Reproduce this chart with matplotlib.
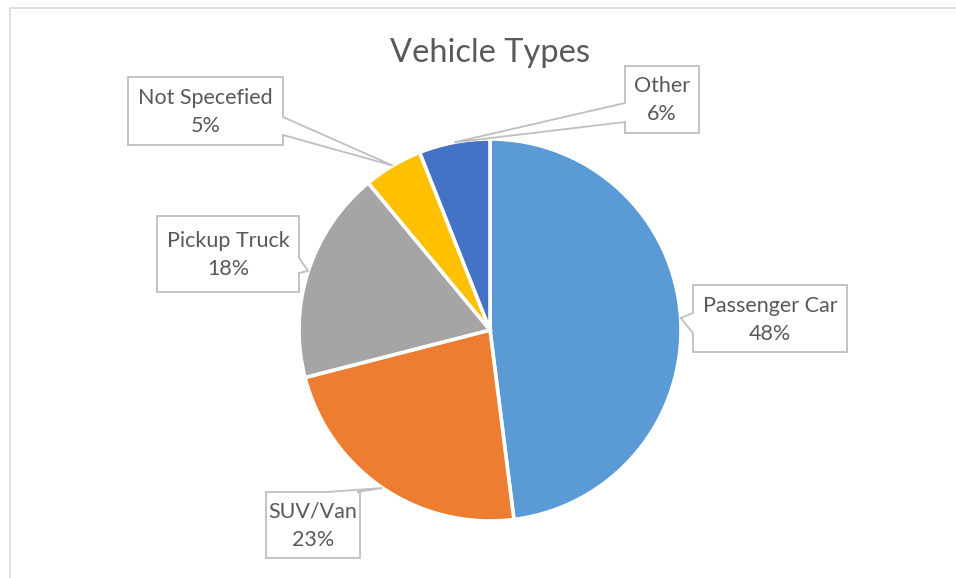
import matplotlib
matplotlib.use("Agg")
import matplotlib.pyplot as plt
import numpy as np
from matplotlib.patches import Polygon

categories = ["Passenger Car", "SUV/Van", "Pickup Truck", "Not Specefied", "Other"]
values = [48, 23, 18, 5, 6]
colors = ["#5B9BD5", "#ED7D31", "#A5A5A5", "#FFC000", "#4472C4"]
title = "Vehicle Types"

W, H = 956, 578
fig = plt.figure(figsize=(W / 100, H / 100), dpi=100)
FONT = "Lato"
TXT = "#595959"

# pie axes: center (490,330) px, radius 191 px
cx, cy, r = 490, 330, 191
ax = fig.add_axes([(cx - r) / W, (H - cy - r) / H, 2 * r / W, 2 * r / H])
wedges, _ = ax.pie(values, colors=colors, startangle=90, counterclock=False,
                   radius=1.0, wedgeprops=dict(edgecolor="white", linewidth=2.6))
ax.set_xlim(-1, 1)
ax.set_ylim(-1, 1)
ax.set_aspect("auto")
ax.axis("off")

# overlay in pixel coords (top-left origin)
ov = fig.add_axes([0, 0, 1, 1], zorder=5)
ov.set_xlim(0, W)
ov.set_ylim(H, 0)
ov.axis("off")
ov.patch.set_alpha(0)

# chart border (cropped chart area)
ov.plot([10.5, 10.5, W], [H, 7.5, 7.5], color="#D9D9D9", lw=1.2, solid_capstyle="butt")

ov.text(490, 53, title, ha="center", va="center", fontsize=23.5, color=TXT, family=FONT)

# callout boxes: (x0, y0, x1, y1), side of pointer, base positions along that side
boxes = {
    "Passenger Car": ((693, 285, 847, 352), "left", (313, 333)),
    "SUV/Van": ((266, 492, 360, 558), "top", (327, 357)),
    "Pickup Truck": ((157, 216, 299, 292), "right", (258, 273)),
    "Not Specefied": ((128, 77, 283, 145), "right", (117, 135)),
    "Other": ((625, 66, 699, 133), "left", (103, 122)),
}

total = sum(values)
theta = 90.0
for cat, v in zip(categories, values):
    span = 360.0 * v / total
    mid = np.deg2rad(theta - span / 2)
    theta -= span
    disp = ax.transData.transform((1.0 * np.cos(mid), 1.0 * np.sin(mid)))
    tx, ty = ov.transData.inverted().transform(disp)
    (x0, y0, x1, y1), side, (b1, b2) = boxes[cat]
    if side == "left":
        pts = [(x0, y0), (x1, y0), (x1, y1), (x0, y1), (x0, b2), (tx, ty), (x0, b1)]
    elif side == "right":
        pts = [(x0, y0), (x1, y0), (x1, b1), (tx, ty), (x1, b2), (x1, y1), (x0, y1)]
    else:  # top
        pts = [(x0, y0), (b1, y0), (tx, ty), (b2, y0), (x1, y0), (x1, y1), (x0, y1)]
    ov.add_patch(Polygon(pts, closed=True, facecolor="white", edgecolor="#BFBFBF",
                         lw=1.3, joinstyle="miter"))
    pct = f"{round(100 * v / total)}%"
    ov.text((x0 + x1) / 2, (y0 + y1) / 2 + 1, f"{cat}\n{pct}", ha="center", va="center",
            fontsize=15.5, color=TXT, family=FONT, linespacing=1.5)

fig.savefig("out.png", dpi=100, facecolor="white")
